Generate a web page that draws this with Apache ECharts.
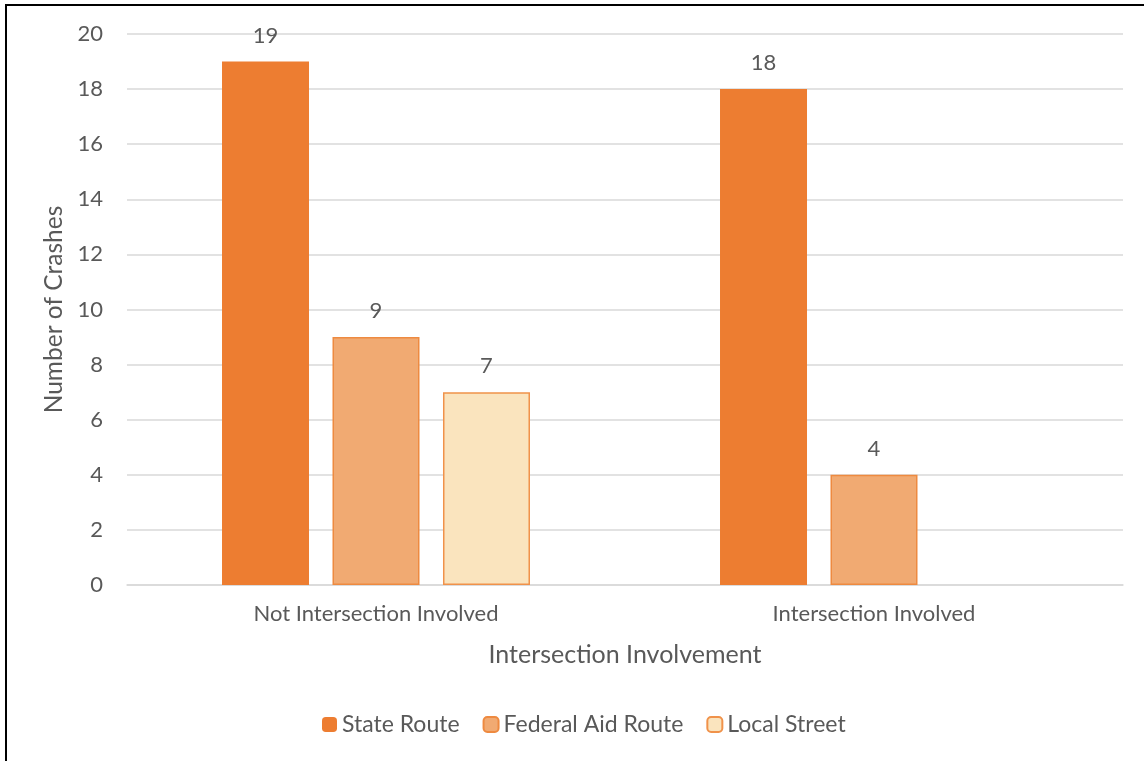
<!DOCTYPE html>
<html>
<head>
<meta charset="utf-8">
<title>Crashes by Intersection Involvement</title>
<script src="https://cdn.jsdelivr.net/npm/echarts@6/dist/echarts.min.js"></script>
<style>
  html, body { margin: 0; padding: 0; background: #ffffff; }
  #chart { width: 1144px; height: 761px; }
</style>
</head>
<body>
<div id="chart"></div>
<script>
// Categories and series values
const categories = ['Not Intersection Involved', 'Intersection Involved'];
const stateRoute = [19, 18];
const federalAidRoute = [9, 4];
const localStreet = [7, null];
const seriesNames = ['State Route', 'Federal Aid Route', 'Local Street'];

const FONT = 'Lato, "Liberation Sans", Arial, sans-serif';
const TEXT = '#595959';

const chart = echarts.init(document.getElementById('chart'), null, { renderer: 'canvas' });

function barSeries(name, data, fill, border, borderWidth) {
  return {
    name: name,
    type: 'bar',
    data: data,
    barWidth: 87,
    barGap: '27%',
    itemStyle: { color: fill, borderColor: border, borderWidth: borderWidth },
    label: {
      show: true,
      position: 'top',
      distance: 15,
      color: TEXT,
      fontFamily: FONT,
      fontSize: 22
    }
  };
}

chart.setOption({
  animation: false,
  backgroundColor: '#ffffff',
  grid: { left: 127, right: 21, top: 34, bottom: 176, containLabel: false },
  legend: {
    top: 708,
    left: 317,
    itemWidth: 15,
    itemHeight: 15,
    itemGap: 23,
    textStyle: { color: TEXT, fontFamily: FONT, fontSize: 23 },
    data: seriesNames
  },
  xAxis: {
    type: 'category',
    data: categories,
    name: 'Intersection Involvement',
    nameLocation: 'middle',
    nameGap: 57,
    nameTextStyle: { color: TEXT, fontFamily: FONT, fontSize: 25 },
    axisLine: { show: true, lineStyle: { color: '#d9d9d9', width: 1.5 } },
    axisTick: { show: false },
    axisLabel: { color: TEXT, fontFamily: FONT, fontSize: 22, margin: 18 }
  },
  yAxis: {
    type: 'value',
    min: 0,
    max: 20,
    interval: 2,
    name: 'Number of Crashes',
    nameLocation: 'middle',
    nameGap: 58,
    nameTextStyle: { color: TEXT, fontFamily: FONT, fontSize: 24.5 },
    axisLine: { show: false },
    axisTick: { show: false },
    axisLabel: { color: TEXT, fontFamily: FONT, fontSize: 22, margin: 24 },
    splitLine: { lineStyle: { color: '#d9d9d9', width: 1.5 } }
  },
  series: [
    barSeries(seriesNames[0], stateRoute, '#ED7D31', '#ED7D31', 0),
    barSeries(seriesNames[1], federalAidRoute, '#F1AA72', '#EE8A40', 1.5),
    barSeries(seriesNames[2], localStreet, '#FAE4BE', '#F0924A', 1.5)
  ],
  graphic: [
    {
      type: 'polyline',
      shape: { points: [[6, 761], [6, 5], [1144, 5]] },
      style: { stroke: '#000000', lineWidth: 2, fill: null },
      silent: true
    }
  ]
});
</script>
</body>
</html>
